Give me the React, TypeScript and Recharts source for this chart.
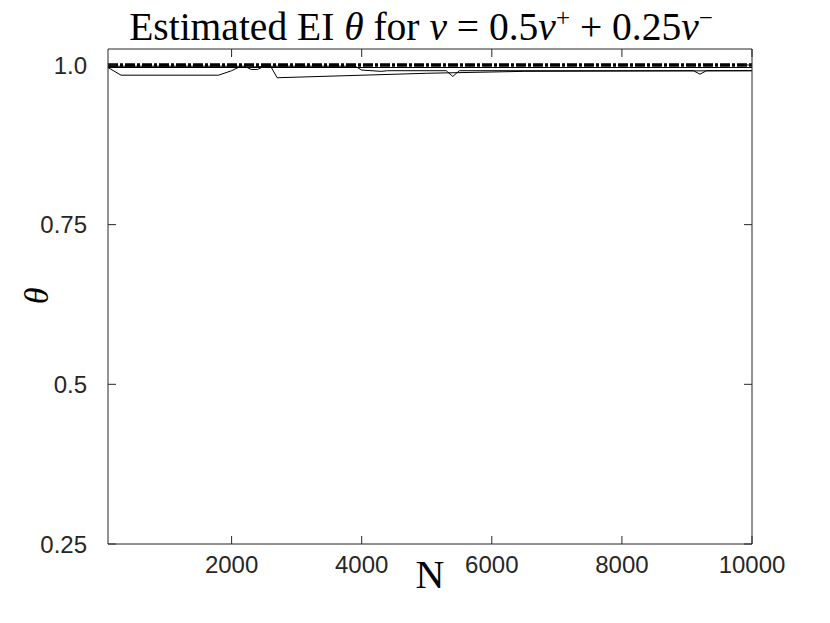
import { LineChart, Line, XAxis, YAxis } from 'recharts';

// N values and estimated theta (breakpoints of each polyline)
const xTicks = [2000, 4000, 6000, 8000, 10000];
const yTicks = [0.25, 0.5, 0.75, 1];
const yTickLabels = ['0.25', '0.5', '0.75', '1.0'];

const trueTheta: [number, number][] = [
  [100, 1],
  [10000, 1],
];

const estUpper: [number, number][] = [
  [100, 0.996],
  [10000, 0.996],
];

const estLower: [number, number][] = [
  [100, 0.996], [300, 0.984], [1800, 0.984], [2000, 0.991], [2100, 0.996],
  [2600, 0.998], [2700, 0.98], [5000, 0.987], [6500, 0.99], [10000, 0.991],
];

const estDips: [number, number][] = [
  [100, 0.998], [2200, 0.998], [2300, 0.993], [2400, 0.993], [2500, 0.998],
  [3900, 0.998], [4000, 0.992], [4300, 0.99], [4400, 0.991], [5300, 0.991],
  [5400, 0.982], [5500, 0.991], [9100, 0.991], [9200, 0.9855], [9300, 0.991],
  [10000, 0.991],
];

const toRows = (pts: [number, number][]) => pts.map(([n, t]) => ({ n, t }));

const axisColor = '#262626';
const tickLen = 8;
const fontTick = 'Liberation Sans';
const supStyle = { fontSize: 25, lineHeight: 0 };

// matlab style: tick marks point into the plot box
const BottomTick = (p: any) => (
  <g>
    <line x1={p.x} x2={p.x} y1={p.y} y2={p.y - tickLen} stroke={axisColor} />
    <text x={p.x} y={p.y + 29} textAnchor="middle" fontFamily={fontTick} fontSize={24} fill={axisColor}>
      {p.payload.value}
    </text>
  </g>
);

const LeftTick = (p: any) => (
  <g>
    <line x1={p.x} x2={p.x + tickLen} y1={p.y} y2={p.y} stroke={axisColor} />
    <text x={p.x - 21} y={p.y} dy="0.36em" textAnchor="end" fontFamily={fontTick} fontSize={24} fill={axisColor}>
      {yTickLabels[yTicks.indexOf(p.payload.value)]}
    </text>
  </g>
);

const TopTick = (p: any) => <line x1={p.x} x2={p.x} y1={p.y} y2={p.y + tickLen} stroke={axisColor} />;
const RightTick = (p: any) => <line x1={p.x} x2={p.x - tickLen} y1={p.y} y2={p.y} stroke={axisColor} />;

export default function App() {
  return (
    <div style={{ position: 'absolute', left: 0, top: 0, width: 830, height: 623, background: '#fff' }}>
      <div
        style={{
          position: 'absolute', left: 0, top: 5, width: 842, textAlign: 'center',
          fontFamily: 'Liberation Serif', fontSize: 39.5, lineHeight: '44px', color: '#000', whiteSpace: 'nowrap',
        }}
      >
        Estimated EI <i>θ</i> for <i>v</i> = 0.5<i>v</i><sup style={supStyle}>+</sup> + 0.25<i>v</i>
        <sup style={supStyle}>−</sup>
      </div>
      <div
        style={{
          position: 'absolute', left: 0, top: 551, width: 860, textAlign: 'center',
          fontFamily: 'Liberation Serif', fontSize: 40, color: '#000',
        }}
      >
        N
      </div>
      <div
        style={{
          position: 'absolute', left: 29, top: 277, fontFamily: 'Liberation Serif', fontSize: 34,
          fontStyle: 'italic', transform: 'rotate(-90deg)', transformOrigin: 'center',
        }}
      >
        θ
      </div>
      <LineChart width={830} height={623} margin={{ top: 48, right: 77, bottom: 19, left: 0 }}>
        <XAxis
          type="number"
          dataKey="n"
          domain={[100, 10000]}
          ticks={xTicks}
          allowDataOverflow
          height={60}
          tickSize={0}
          tickMargin={0}
          stroke={axisColor}
          tick={BottomTick}
        />
        <XAxis
          xAxisId="top"
          orientation="top"
          type="number"
          dataKey="n"
          domain={[100, 10000]}
          ticks={xTicks}
          allowDataOverflow
          height={1}
          tickSize={0}
          tickMargin={0}
          tick={TopTick}
          stroke={axisColor}
        />
        <YAxis
          type="number"
          domain={[0.25, 1.025]}
          ticks={yTicks}
          allowDataOverflow
          width={108}
          tickSize={0}
          tickMargin={0}
          stroke={axisColor}
          tick={LeftTick}
        />
        <YAxis
          yAxisId="right"
          orientation="right"
          type="number"
          domain={[0.25, 1.025]}
          ticks={yTicks}
          allowDataOverflow
          width={1}
          tickSize={0}
          tickMargin={0}
          tick={RightTick}
          stroke={axisColor}
        />
        <Line data={toRows(estLower)} dataKey="t" stroke="#000" strokeWidth={1} dot={false} isAnimationActive={false} />
        <Line data={toRows(estDips)} dataKey="t" stroke="#000" strokeWidth={1} dot={false} isAnimationActive={false} />
        <Line data={toRows(estUpper)} dataKey="t" stroke="#000" strokeWidth={1.2} dot={false} isAnimationActive={false} />
        <Line
          data={toRows(trueTheta)}
          dataKey="t"
          stroke="#000"
          strokeWidth={3.5}
          strokeDasharray="10 2 3 2"
          dot={false}
          isAnimationActive={false}
        />
      </LineChart>
    </div>
  );
}
